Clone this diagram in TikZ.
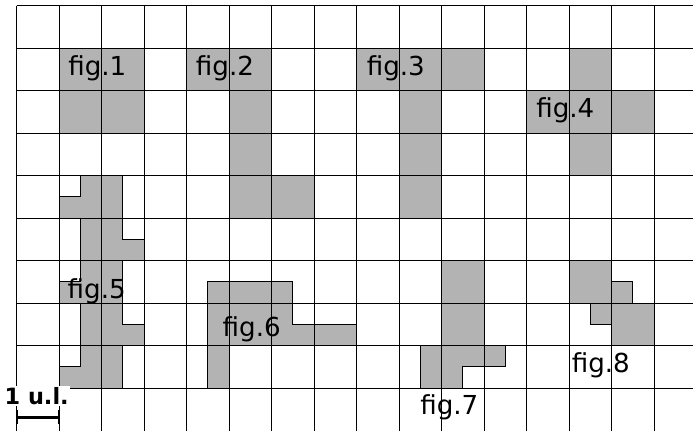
\documentclass[tikz,border=0pt]{standalone}
\usepackage{fontspec}
\setmainfont{DejaVu Sans}
\definecolor{shapegray}{RGB}{179,179,179}
\tikzset{
  shapefill/.style={fill=shapegray},
  shapeline/.style={draw=black, line width=0.65pt, line join=miter},
  gridline/.style={draw=black, line width=0.65pt},
  figlabel/.style={anchor=base, inner sep=0pt, font=\fontsize{17.5}{21}\selectfont},
  scalelabel/.style={anchor=base, fill=white, inner sep=0.6pt, font=\bfseries\fontsize{15}{18}\selectfont},
}
\begin{document}
\begin{tikzpicture}[x=1cm,y=1cm]
\path[use as bounding box] (-0.393,0.134) rectangle (15.913,-9.984);
\clip (-0.393,0.134) rectangle (15.913,-9.984);
\fill[white] (-0.393,0.134) rectangle (15.913,-9.984);
% shapes (fills)
\def\figA{(1,-1) -- (3,-1) -- (3,-3) -- (1,-3) -- cycle}
\def\figB{(4,-1) -- (6,-1) -- (6,-4) -- (7,-4) -- (7,-5) -- (5,-5) -- (5,-2) -- (4,-2) -- cycle}
\def\figC{(8,-1) -- (11,-1) -- (11,-2) -- (10,-2) -- (10,-5) -- (9,-5) -- (9,-2) -- (8,-2) -- cycle}
\def\figD{(13,-1) -- (14,-1) -- (14,-2) -- (15,-2) -- (15,-3) -- (14,-3) -- (14,-4) -- (13,-4) -- (13,-3) -- (12,-3) -- (12,-2) -- (13,-2) -- cycle}
\def\figE{(1.5,-4) -- (2.5,-4) -- (2.5,-5.5) -- (3,-5.5) -- (3,-6) -- (2.5,-6) -- (2.5,-7.5) -- (3,-7.5) -- (3,-8) -- (2.5,-8) -- (2.5,-9) -- (1,-9) -- (1,-8.5) -- (1.5,-8.5) -- (1.5,-7) -- (1,-7) -- (1,-6.5) -- (1.5,-6.5) -- (1.5,-5) -- (1,-5) -- (1,-4.5) -- (1.5,-4.5) -- cycle}
\def\figF{(4.5,-6.5) -- (6.5,-6.5) -- (6.5,-7.5) -- (8,-7.5) -- (8,-8) -- (5,-8) -- (5,-9) -- (4.5,-9) -- cycle}
\def\figG{(10,-6) -- (11,-6) -- (11,-8) -- (11.5,-8) -- (11.5,-8.5) -- (10.5,-8.5) -- (10.5,-9) -- (9.5,-9) -- (9.5,-8) -- (10,-8) -- cycle}
\def\figH{(13,-6) -- (14,-6) -- (14,-6.5) -- (14.5,-6.5) -- (14.5,-7) -- (15,-7) -- (15,-8) -- (14,-8) -- (14,-7.5) -- (13.5,-7.5) -- (13.5,-7) -- (13,-7) -- cycle}
\foreach \s in {\figA,\figB,\figC,\figD,\figE,\figF,\figG,\figH}{\path[shapefill] \s;}
% labels
\node[figlabel] (lab1) at (1.896,-1.631) {fig.1};
\node[figlabel] (lab2) at (4.901,-1.631) {fig.2};
\node[figlabel] (lab3) at (8.92,-1.631) {fig.3};
\node[figlabel] (lab4) at (12.908,-2.631) {fig.4};
\node[figlabel] (lab5) at (1.882,-6.885) {fig.5};
\node[figlabel] (lab6) at (5.529,-7.788) {fig.6};
\node[figlabel] (lab7) at (10.179,-9.614) {fig.7};
\node[figlabel] (lab8) at (13.744,-8.635) {fig.8};
% grid
\foreach \i in {0,...,15}{\draw[gridline] (\i,0) -- (\i,-10.5);}
\foreach \j in {0,...,9}{\draw[gridline] (0,-\j) -- (16.5,-\j);}
% outlines
\foreach \s in {\figA,\figB,\figC,\figD,\figE,\figF,\figG,\figH}{\path[shapeline] \s;}
% scale
\node[scalelabel] (scaletxt) at (0.47,-9.379) {1 u.l.};
\coordinate (sbL) at (0,-9.694);
\coordinate (sbR) at (1,-9.694);
\draw[line width=2.4pt] (sbL) -- (sbR);
\draw[line width=1.2pt] ([yshift=0.18cm]sbL) -- ([yshift=-0.155cm]sbL);
\draw[line width=1.2pt] ([yshift=0.18cm]sbR) -- ([yshift=-0.155cm]sbR);
\end{tikzpicture}
\end{document}
